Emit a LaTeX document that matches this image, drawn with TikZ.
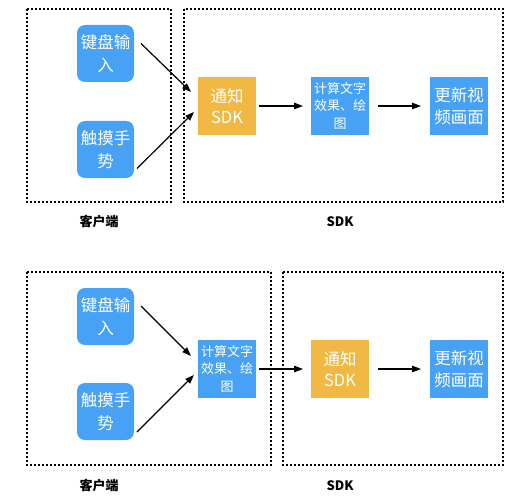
\documentclass[tikz,border=0pt]{standalone}
\usepackage{fontspec}
\newfontfamily\cjk{Noto Sans CJK SC}
\usetikzlibrary{arrows.meta}
\definecolor{boxblue}{HTML}{47A2F6}
\definecolor{boxorange}{HTML}{F1B943}
\tikzset{
  every node/.style={inner sep=0pt, outer sep=0pt},
  inbox/.style={fill=boxblue, rounded corners=8pt, minimum width=57pt, minimum height=57pt, text=white, align=center, font=\cjk\fontsize{16.5}{22.5}\selectfont},
  bluebox/.style={fill=boxblue, minimum width=58pt, minimum height=58pt, text=white, align=center, font=\cjk\fontsize{16.5}{22}\selectfont},
  smallbox/.style={fill=boxblue, minimum width=58pt, minimum height=58pt, text=white, align=center, font=\cjk\fontsize{13}{17.5}\selectfont},
  orangebox/.style={fill=boxorange, minimum width=58pt, minimum height=58pt, text=white, align=center, font=\cjk\fontsize{16.5}{21}\selectfont},
  group/.style={draw=black, line width=1.2pt, dash pattern=on 2pt off 2pt},
  grouplabel/.style={font=\cjk\bfseries\fontsize{13}{14}\selectfont},
  flow/.style={draw=black, line width=1.2pt, -{Triangle[length=9pt,width=6.5pt]}},
}
\begin{document}
\begin{tikzpicture}[x=1pt,y=-1pt]
\useasboundingbox (0,0) rectangle (511,500);
% ---------- top diagram ----------
\draw[group] (27,9) rectangle (171,202);
\draw[group] (184,9) rectangle (503,202);
\node[inbox] (kb1) at (105.5,53.5) {键盘输\\入};
\node[inbox] (tm1) at (105.5,149.5) {触摸手\\势};
\node[orangebox] (tz1) at (227,106) {通知\\SDK};
\node[smallbox] (js1) at (340,106) {计算文字\\效果、绘\\图};
\node[bluebox] (gx1) at (459,106) {更新视\\频画面};
\node[grouplabel] (cl1) at (99,222) {客户端};
\node[grouplabel] (sd1) at (340,222) {SDK};
\draw[flow] ([xshift=7pt,yshift=10pt]kb1.east) -- ([xshift=-7pt,yshift=14pt]tz1.west);
\draw[flow] ([xshift=3pt,yshift=-19pt]tm1.east) -- ([xshift=-4pt,yshift=-6pt]tz1.west);
\draw[flow, shorten <=3pt, shorten >=8pt] (tz1.east) -- (js1.west);
\draw[flow, shorten <=9pt, shorten >=9pt] (js1.east) -- (gx1.west);
% ---------- bottom diagram ----------
\draw[group] (27,272) rectangle (271,465);
\draw[group] (283,272) rectangle (503,465);
\node[inbox] (kb2) at (105.5,316.5) {键盘输\\入};
\node[inbox] (tm2) at (105.5,411.5) {触摸手\\势};
\node[smallbox] (js2) at (227,369) {计算文字\\效果、绘\\图};
\node[orangebox] (tz2) at (340,369) {通知\\SDK};
\node[bluebox] (gx2) at (459,369) {更新视\\频画面};
\node[grouplabel] (cl2) at (99,486) {客户端};
\node[grouplabel] (sd2) at (340,486) {SDK};
\draw[flow] ([xshift=7pt,yshift=10.5pt]kb2.east) -- ([xshift=-7pt,yshift=13pt]js2.west);
\draw[flow] ([xshift=3pt,yshift=-20.5pt]tm2.east) -- ([xshift=-4pt,yshift=-6pt]js2.west);
\draw[flow, shorten <=3pt, shorten >=8pt] (js2.east) -- (tz2.west);
\draw[flow, shorten <=9pt, shorten >=9pt] (tz2.east) -- (gx2.west);
\end{tikzpicture}
\end{document}
